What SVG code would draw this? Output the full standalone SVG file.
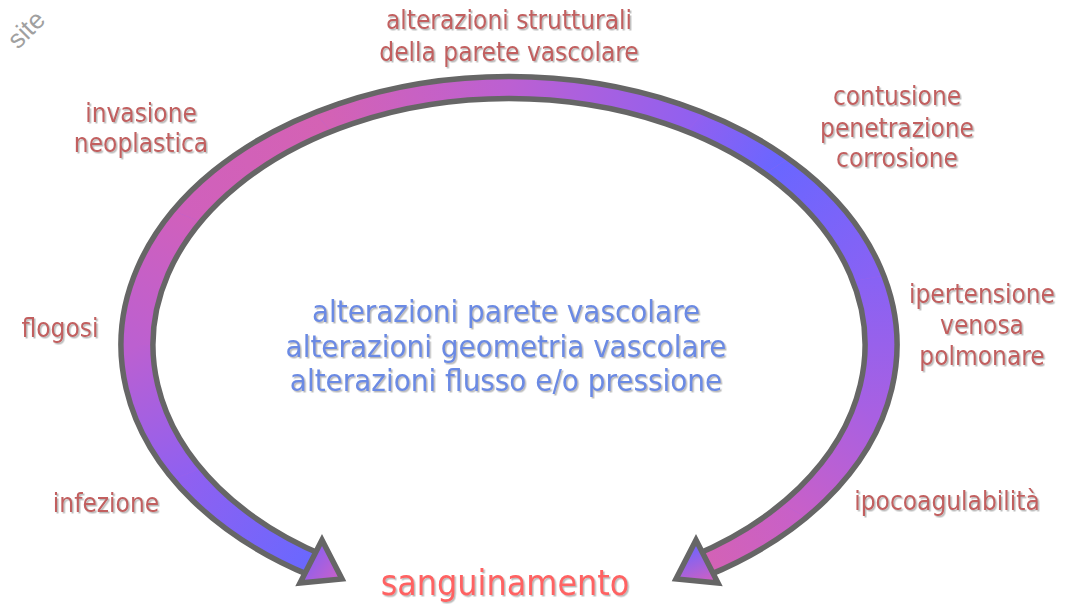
<svg xmlns="http://www.w3.org/2000/svg" width="1068" height="606" viewBox="0 0 1068 606">
  <defs>
    <filter id="sh" x="-10%" y="-30%" width="120%" height="160%">
      <feDropShadow dx="1.5" dy="1.5" stdDeviation="0.6" flood-color="#b4b4b4" flood-opacity="0.9"/>
    </filter>
    <linearGradient id="g1" gradientUnits="userSpaceOnUse" x1="317.4" y1="565.6" x2="186.8" y2="473.7"><stop offset="0" stop-color="#6868ff"/><stop offset="1" stop-color="#9060f0"/></linearGradient>
    <linearGradient id="g2" gradientUnits="userSpaceOnUse" x1="186.8" y1="473.7" x2="137" y2="345"><stop offset="0" stop-color="#9060f0"/><stop offset="1" stop-color="#bc60d0"/></linearGradient>
    <linearGradient id="g3" gradientUnits="userSpaceOnUse" x1="137" y1="345" x2="186.8" y2="216.3"><stop offset="0" stop-color="#bc60d0"/><stop offset="1" stop-color="#d060bc"/></linearGradient>
    <linearGradient id="g4" gradientUnits="userSpaceOnUse" x1="186.8" y1="216.3" x2="323" y2="122.1"><stop offset="0" stop-color="#d060bc"/><stop offset="1" stop-color="#d462b4"/></linearGradient>
    <linearGradient id="g5" gradientUnits="userSpaceOnUse" x1="323" y1="122.1" x2="509" y2="87.6"><stop offset="0" stop-color="#d462b4"/><stop offset="1" stop-color="#bc60d2"/></linearGradient>
    <linearGradient id="g6" gradientUnits="userSpaceOnUse" x1="509" y1="87.6" x2="695" y2="122.1"><stop offset="0" stop-color="#bc60d2"/><stop offset="1" stop-color="#9060f0"/></linearGradient>
    <linearGradient id="g7" gradientUnits="userSpaceOnUse" x1="695" y1="122.1" x2="776.6" y2="166.2"><stop offset="0" stop-color="#9060f0"/><stop offset="1" stop-color="#6a66ff"/></linearGradient>
    <linearGradient id="g8" gradientUnits="userSpaceOnUse" x1="776.6" y1="166.2" x2="868.3" y2="278.4"><stop offset="0" stop-color="#6a66ff"/><stop offset="1" stop-color="#8862f4"/></linearGradient>
    <linearGradient id="g9" gradientUnits="userSpaceOnUse" x1="868.3" y1="278.4" x2="868.3" y2="411.6"><stop offset="0" stop-color="#8862f4"/><stop offset="1" stop-color="#a860e2"/></linearGradient>
    <linearGradient id="g10" gradientUnits="userSpaceOnUse" x1="868.3" y1="411.6" x2="794" y2="510.5"><stop offset="0" stop-color="#a860e2"/><stop offset="1" stop-color="#c860c8"/></linearGradient>
    <linearGradient id="g11" gradientUnits="userSpaceOnUse" x1="794" y1="510.5" x2="700.6" y2="565.6"><stop offset="0" stop-color="#c860c8"/><stop offset="1" stop-color="#d462b4"/></linearGradient>
    <linearGradient id="gl" gradientUnits="userSpaceOnUse" x1="302" y1="548" x2="342" y2="578"><stop offset="0" stop-color="#7c60f8"/><stop offset="1" stop-color="#cc60c8"/></linearGradient>
    <linearGradient id="gr" gradientUnits="userSpaceOnUse" x1="692" y1="545" x2="706" y2="582"><stop offset="0" stop-color="#6e64ff"/><stop offset="1" stop-color="#cc60c4"/></linearGradient>
    <style>
      .lbl { font-family: "DejaVu Sans Condensed", "DejaVu Sans", sans-serif; font-stretch: condensed; font-size: 26px; fill: #c25e5e; text-anchor: middle; filter: url(#sh); }
      .mid { font-family: "DejaVu Sans Condensed", "DejaVu Sans", sans-serif; font-stretch: condensed; font-size: 31px; fill: #6a8ae4; text-anchor: middle; filter: url(#sh); }
      .out { font-family: "DejaVu Sans Condensed", "DejaVu Sans", sans-serif; font-stretch: condensed; font-size: 35.5px; fill: #ff6262; text-anchor: middle; filter: url(#sh); }
      .wm { font-family: "Liberation Sans", Arial, sans-serif; font-size: 26px; fill: #a0a0a0; }
      .edge { fill: none; stroke: #666666; stroke-width: 5.5; stroke-linejoin: miter; }
      .head { stroke: #666666; stroke-width: 5.5; stroke-linejoin: miter; }
    </style>
  </defs>

  <rect width="1068" height="606" fill="#ffffff"/>

  <text class="wm" transform="translate(18,50) rotate(-45)">site</text>

  <g id="connectors">
    <g id="band-fill">
      <path fill="#a860e2" d="M309.16 575.15 A388 268.5 0 1 1 708.84 575.15 L692.35 556.21 A356 246.4 0 1 0 325.65 556.21 Z"/>
      <path fill="url(#g1)" d="M309.16 575.15 A388 268.5 0 0 1 172.98 479.25 L200.69 468.2 A356 246.4 0 0 0 325.65 556.21 Z"/>
      <path fill="url(#g2)" d="M172.98 479.25 A388 268.5 0 0 1 121 345 L153 345 A356 246.4 0 0 0 200.69 468.2 Z"/>
      <path fill="url(#g3)" d="M121 345 A388 268.5 0 0 1 172.98 210.75 L200.69 221.8 A356 246.4 0 0 0 153 345 Z"/>
      <path fill="url(#g4)" d="M172.98 210.75 A388 268.5 0 0 1 315 112.47 L331 131.61 A356 246.4 0 0 0 200.69 221.8 Z"/>
      <path fill="url(#g5)" d="M315 112.47 A388 268.5 0 0 1 509 76.5 L509 98.6 A356 246.4 0 0 0 331 131.61 Z"/>
      <path fill="url(#g6)" d="M509 76.5 A388 268.5 0 0 1 703 112.47 L687 131.61 A356 246.4 0 0 0 509 98.6 Z"/>
      <path fill="url(#g7)" d="M703 112.47 A388 268.5 0 0 1 788.1 158.48 L765.08 173.84 A356 246.4 0 0 0 687 131.61 Z"/>
      <path fill="url(#g8)" d="M788.1 158.48 A388 268.5 0 0 1 883.78 275.51 L852.87 281.23 A356 246.4 0 0 0 765.08 173.84 Z"/>
      <path fill="url(#g9)" d="M883.78 275.51 A388 268.5 0 0 1 883.78 414.49 L852.87 408.77 A356 246.4 0 0 0 852.87 281.23 Z"/>
      <path fill="url(#g10)" d="M883.78 414.49 A388 268.5 0 0 1 806.22 517.59 L781.71 503.38 A356 246.4 0 0 0 852.87 408.77 Z"/>
      <path fill="url(#g11)" d="M806.22 517.59 A388 268.5 0 0 1 708.84 575.15 L692.35 556.21 A356 246.4 0 0 0 781.71 503.38 Z"/>
    </g>
    <path class="edge" d="M309.16 575.15 A388 268.5 0 1 1 708.84 575.15 L692.35 556.21 A356 246.4 0 1 0 325.65 556.21 Z"/>
    <polygon class="head" fill="url(#gl)" points="322,540 300,583 342,579"/>
    <polygon class="head" fill="url(#gr)" points="696,540 718,583 676,579"/>
  </g>

  <g id="node-top">
    <text class="lbl" x="509" y="29">alterazioni strutturali</text>
    <text class="lbl" x="509" y="61">della parete vascolare</text>
  </g>
  <g id="node-invasione">
    <text class="lbl" x="141" y="122">invasione</text>
    <text class="lbl" x="141" y="152">neoplastica</text>
  </g>
  <g id="node-contusione">
    <text class="lbl" x="897" y="105">contusione</text>
    <text class="lbl" x="897" y="137">penetrazione</text>
    <text class="lbl" x="897" y="167">corrosione</text>
  </g>
  <g id="node-flogosi">
    <text class="lbl" x="60" y="337">flogosi</text>
  </g>
  <g id="node-infezione">
    <text class="lbl" x="106" y="512">infezione</text>
  </g>
  <g id="node-ipertensione">
    <text class="lbl" x="982" y="303">ipertensione</text>
    <text class="lbl" x="982" y="334">venosa</text>
    <text class="lbl" x="982" y="365">polmonare</text>
  </g>
  <g id="node-ipocoagulabilita">
    <text class="lbl" x="947" y="510">ipocoagulabilità</text>
  </g>
  <g id="node-center">
    <text class="mid" x="506" y="322">alterazioni parete vascolare</text>
    <text class="mid" x="506" y="357">alterazioni geometria vascolare</text>
    <text class="mid" x="506" y="391">alterazioni flusso e/o pressione</text>
  </g>
  <g id="node-sanguinamento">
    <text class="out" x="505" y="595">sanguinamento</text>
  </g>
</svg>
